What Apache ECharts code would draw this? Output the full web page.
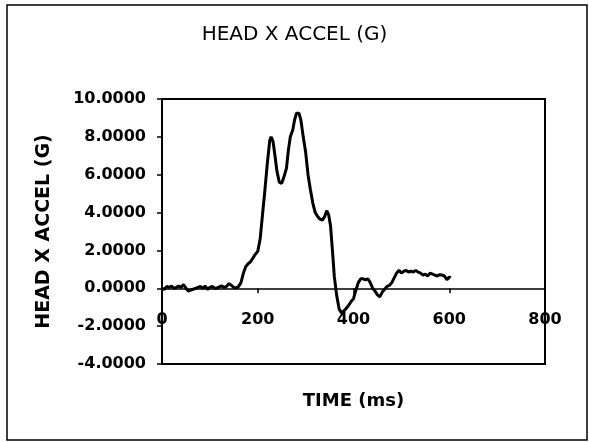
<!DOCTYPE html>
<html>
<head>
<meta charset="utf-8">
<script src="https://cdn.jsdelivr.net/npm/echarts@6/dist/echarts.min.js"></script>
<style>
html,body{margin:0;padding:0;background:#fff;}
#chart{width:589px;height:442px;}
</style>
</head>
<body>
<div id="chart"></div>
<script>
var chartTitle = "HEAD X ACCEL (G)";
var xAxisName = "TIME (ms)";
var yAxisName = "HEAD X ACCEL (G)";
var yTicks = [-4, -2, 0, 2, 4, 6, 8, 10];
var xTicks = [0, 200, 400, 600, 800];

var timeMs = [0,5,10,15,20,25,30,35,40,45,50,55,60,65,70,75,80,85,90,95,100,105,110,115,120,125,130,135,140,145,150,155,160,165,170,175,180,185,190,195,200,205,210,215,220,225,228,232,236,240,245,250,255,260,264,268,273,277,281,286,290,295,300,305,310,315,320,325,330,335,340,344,348,352,356,360,365,370,375,380,385,390,395,400,405,410,415,420,425,430,435,440,445,450,455,460,465,470,475,480,485,490,495,500,505,510,515,520,525,530,535,540,545,550,555,560,565,570,575,580,585,590,595,600,603];
var headXAccel = [0.0,-0.05,0.1,0.05,0.12,0.0,0.05,0.12,0.05,0.2,0.0,-0.15,-0.1,-0.05,0.0,0.05,0.1,0.0,0.12,-0.05,0.05,0.1,0.0,0.02,0.08,0.12,0.05,0.1,0.25,0.15,0.05,0.02,0.1,0.3,0.8,1.15,1.3,1.4,1.6,1.8,1.95,2.6,3.9,5.2,6.6,7.8,8.0,7.75,7.0,6.2,5.6,5.55,5.9,6.35,7.3,8.0,8.35,8.9,9.25,9.25,8.9,8.0,7.2,6.0,5.2,4.5,4.0,3.8,3.65,3.6,3.8,4.1,3.9,3.3,2.0,0.6,-0.4,-1.1,-1.3,-1.2,-1.05,-0.9,-0.7,-0.55,-0.1,0.3,0.5,0.5,0.45,0.5,0.3,0.0,-0.15,-0.35,-0.45,-0.2,-0.05,0.1,0.15,0.3,0.55,0.8,0.95,0.8,0.9,0.95,0.85,0.9,0.85,0.95,0.85,0.8,0.7,0.75,0.65,0.8,0.75,0.7,0.65,0.72,0.7,0.65,0.45,0.6,0.55];

var seriesData = timeMs.map(function (t, i) { return [t, headXAccel[i]]; });

var chart = echarts.init(document.getElementById('chart'), null, {renderer: 'canvas'});
var axisFont = {fontFamily: 'DejaVu Sans', fontWeight: 'bold', color: '#000'};

chart.setOption({
  animation: false,
  backgroundColor: '#fff',
  title: {
    text: chartTitle,
    left: 'center',
    top: 20,
    textStyle: {fontFamily: 'DejaVu Sans', fontWeight: 'normal', fontSize: 20, color: '#000'}
  },
  graphic: [{
    type: 'rect',
    shape: {x: 7, y: 5, width: 580, height: 435},
    style: {fill: 'none', stroke: '#000', lineWidth: 1.5},
    silent: true
  }],
  grid: {
    left: 162, right: 44, top: 99, bottom: 78,
    containLabel: false,
    outerBoundsMode: 'none',
    show: true,
    borderColor: '#000',
    borderWidth: 2,
    backgroundColor: 'transparent'
  },
  xAxis: {
    type: 'value',
    min: xTicks[0],
    max: xTicks[xTicks.length - 1],
    interval: 200,
    name: xAxisName,
    nameLocation: 'middle',
    nameGap: 28,
    nameMoveOverlap: false,
    nameTextStyle: Object.assign({fontSize: 18}, axisFont),
    axisLine: {show: true, onZero: true, lineStyle: {color: '#000', width: 1.5}},
    axisTick: {show: true, inside: false, length: 5, lineStyle: {color: '#000', width: 1.5}},
    axisLabel: Object.assign({fontSize: 16, margin: -52}, axisFont),
    splitLine: {show: false}
  },
  yAxis: {
    type: 'value',
    min: yTicks[0],
    max: yTicks[yTicks.length - 1],
    interval: 2,
    name: yAxisName,
    nameLocation: 'middle',
    nameRotate: 90,
    nameGap: 108,
    nameTextStyle: Object.assign({fontSize: 19}, axisFont),
    axisLine: {show: true, lineStyle: {color: '#000', width: 2}},
    axisTick: {show: true, inside: false, length: 5, lineStyle: {color: '#000', width: 1.5}},
    axisLabel: Object.assign({fontSize: 16, margin: 16, formatter: function (v) { return v.toFixed(4); }}, axisFont),
    splitLine: {show: false}
  },
  series: [{
    type: 'line',
    data: seriesData,
    showSymbol: false,
    symbol: 'none',
    smooth: false,
    lineStyle: {color: '#000', width: 3},
    z: 3
  }]
});
</script>
</body>
</html>
